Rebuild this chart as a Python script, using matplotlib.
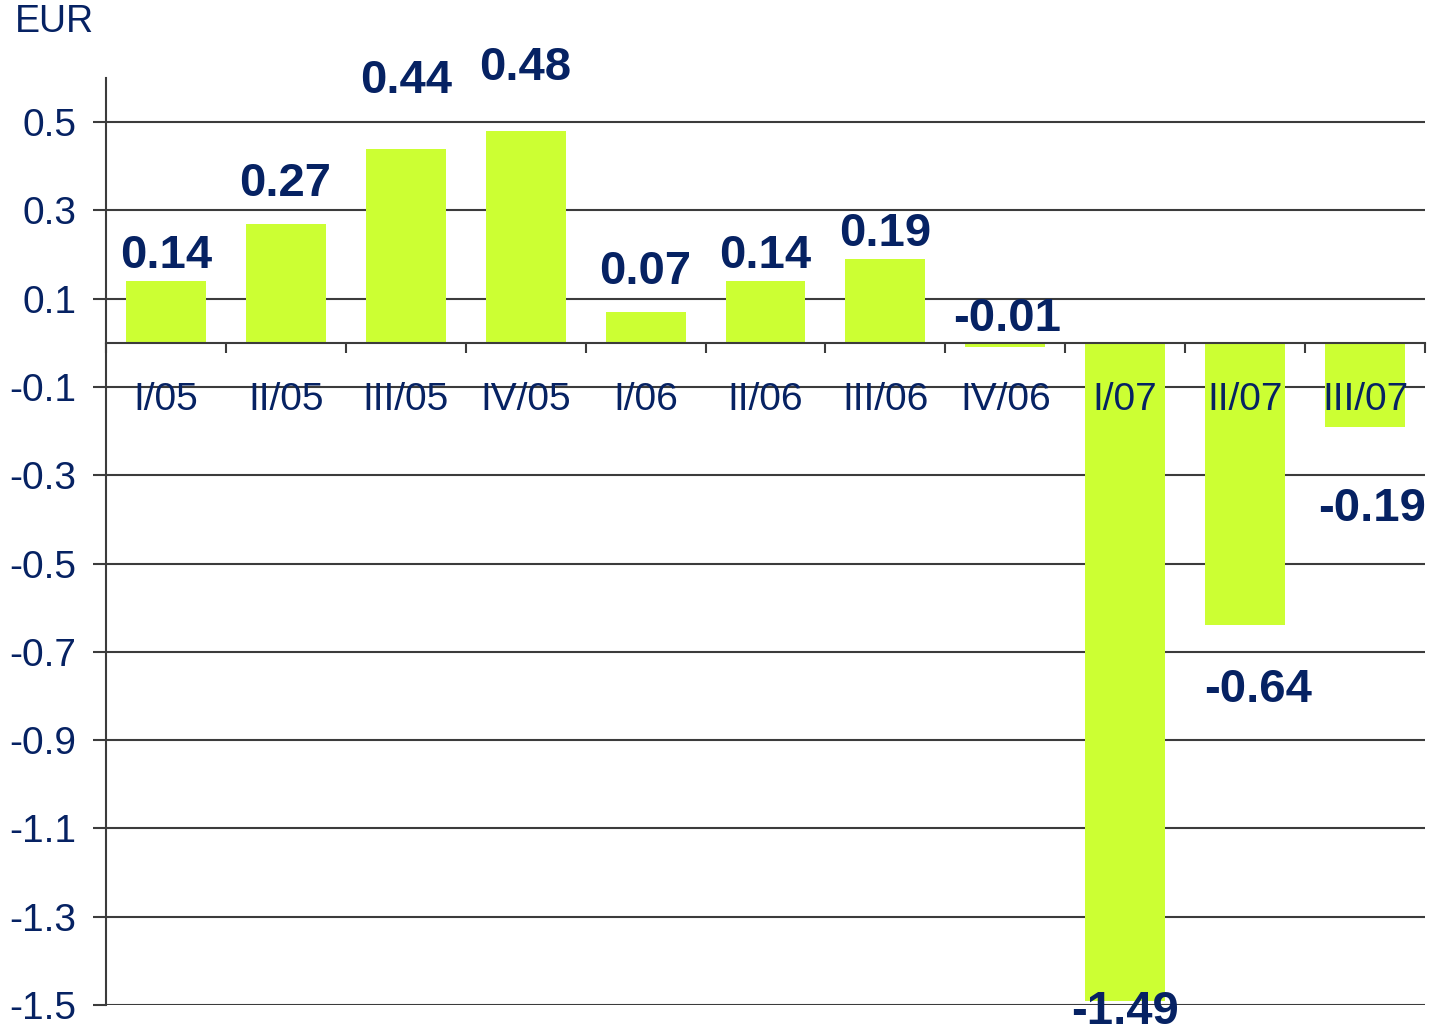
import matplotlib.pyplot as plt
import numpy as np

quarters = ["I/05", "II/05", "III/05", "IV/05", "I/06", "II/06",
            "III/06", "IV/06", "I/07", "II/07", "III/07"]
eps = [0.14, 0.27, 0.44, 0.48, 0.07, 0.14, 0.19, -0.01, -1.49, -0.64, -0.19]
yticks = [0.5, 0.3, 0.1, -0.1, -0.3, -0.5, -0.7, -0.9, -1.1, -1.3, -1.5]
# label nudges in pixels (dx, dy) from bar end, like the original layout
label_dx = [0, -1, 0, 0, 0, 0, 0, 2, 0, 13, 7]
label_dy = [25, 40, 68, 63, 40, 25, 25, 28, -11, -65, -82]

navy = "#062263"
lime = "#ccff33"
grey = "#3c3c3c"

plt.rcParams['font.family'] = ['Liberation Sans', 'DejaVu Sans']

fig = plt.figure(figsize=(14.35, 10.32), dpi=100)
ax = fig.add_axes([106 / 1435, 1 - 1005 / 1032, 1319 / 1435, 927 / 1032])

x = np.arange(len(quarters))
for t in yticks:
    ax.axhline(t, color=grey, lw=1.5, zorder=0)
ax.bar(x, eps, width=0.667, color=lime, zorder=1)

px = 72 / 100.0
for i, v in enumerate(eps):
    ax.annotate(f"{v:.2f}", (x[i], v), xytext=(label_dx[i] * px, label_dy[i] * px),
                textcoords="offset points", ha="center", va="center",
                fontsize=34, fontweight="bold", color=navy, zorder=5)

ax.set_xlim(-0.5, len(quarters) - 0.5)
ax.set_ylim(-1.5, 0.6)
ax.set_yticks(yticks)
ax.set_yticklabels([f"{t:.1f}" for t in yticks])
ax.tick_params(axis="y", length=9.5, width=1.5, color=grey, labelsize=28,
               labelcolor=navy, pad=12)

ax.spines["top"].set_visible(False)
ax.spines["right"].set_visible(False)
ax.spines["left"].set_color(grey)
ax.spines["left"].set_linewidth(1.5)
ax.spines["bottom"].set_position(("data", 0))
ax.spines["bottom"].set_color(grey)
ax.spines["bottom"].set_linewidth(1.5)

ax.set_xticks(x)
ax.set_xticklabels(quarters)
ax.set_xticks(np.arange(-0.5, len(quarters)), minor=True)
ax.tick_params(axis="x", which="major", length=0, labelsize=28, labelcolor=navy, pad=28)
ax.tick_params(axis="x", which="minor", length=7.5, width=1.5, color=grey)

fig.text(15 / 1435, 1 - 22 / 1032, "EUR", fontsize=27, color=navy, va="center", ha="left")

fig.savefig("out.png", dpi=100)
